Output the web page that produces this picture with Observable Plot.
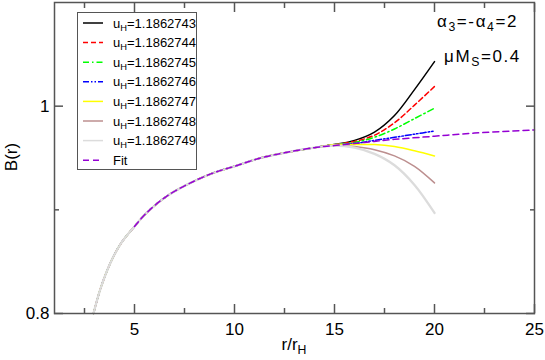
<!DOCTYPE html>
<html><head><meta charset="utf-8">
<script src="https://cdn.jsdelivr.net/npm/d3@7"></script>
<script src="https://cdn.jsdelivr.net/npm/@observablehq/plot@0.6"></script>
<style>
body{margin:0;background:#fff;}
#chart svg{display:block;}
</style>
</head><body><div id="chart"></div>
<script>
// ---- data ----
const uHLabels = ["1.1862743","1.1862744","1.1862745","1.1862746","1.1862747","1.1862748","1.1862749"];
// shared part of all u_H curves
const rBase = [2.95, 3.3, 3.8, 4.3, 5, 5.6, 6.6, 7.8, 9, 10, 11.3, 12.5, 14];
const bBase = [0.800, 0.824, 0.849, 0.867, 0.884, 0.897, 0.913, 0.926, 0.936, 0.942, 0.950, 0.955, 0.960];
// diverging tails
const rTail = [15, 16, 17, 18, 19, 20];
const bTail743 = [0.963, 0.967, 0.975, 0.991, 1.016, 1.043];
const bTail744 = [0.963, 0.966, 0.972, 0.984, 1.001, 1.019];
const bTail745 = [0.963, 0.965, 0.970, 0.978, 0.988, 0.998];
const bTail746 = [0.963, 0.964, 0.967, 0.970, 0.973, 0.976];
const bTail747 = [0.963, 0.963, 0.963, 0.961, 0.957, 0.952];
const bTail748 = [0.962, 0.961, 0.958, 0.952, 0.942, 0.926];
const bTail749 = [0.962, 0.960, 0.954, 0.943, 0.924, 0.897];
// fit
const rFit = [5, 5.6, 6.6, 7.8, 9, 10, 11.3, 12.5, 14, 15, 16.5, 18, 20, 22, 25];
const bFit = [0.884, 0.897, 0.913, 0.926, 0.936, 0.942, 0.950, 0.955, 0.960, 0.962, 0.965, 0.968, 0.971, 0.974, 0.977];
// axes
const xMajor = [5, 10, 15, 20, 25];
const xMinor = [2.5, 7.5, 12.5, 17.5, 22.5];
const yMajor = [0.8, 1.0];
const yMinor = [0.9];
const yTickLabels = ["0.8", "1"];

// ---- styles ----
const seriesColors = ["#000000", "#ff0000", "#00ff00", "#0000ff", "#ffff00", "#bc8f8f", "#dcdcdc"];
const seriesDash = [null, "5,3", "6,3,1.5,3", "6,2,1.5,2,1.5,2", null, null, null];
const seriesWidth = [1.5, 1.5, 1.5, 1.5, 1.5, 1.5, 2.3];
const fitColor = "#9400d3";
const fitDash = "6,4";
const frameColor = "#555";
const FONT = "'Liberation Sans', Arial, Helvetica, sans-serif";

const tails = [bTail743, bTail744, bTail745, bTail746, bTail747, bTail748, bTail749];
const seriesData = tails.map((t, i) =>
  rBase.map((r, j) => ({r, B: bBase[j]})).concat(rTail.map((r, j) => ({r, B: t[j]}))));
const fitData = rFit.map((r, j) => ({r, B: bFit[j]}));

const lineMarks = seriesData.map((d, i) => Plot.line(d, {
  x: "r", y: "B", stroke: seriesColors[i], strokeWidth: seriesWidth[i],
  strokeDasharray: seriesDash[i] || undefined, curve: "catmull-rom"
}));

const tickOpts = {label: null, tickFormat: () => "", stroke: frameColor, strokeWidth: 1.5};
const plot = Plot.plot({
  width: 545, height: 360,
  marginLeft: 54, marginRight: 11, marginTop: 2, marginBottom: 47,
  style: {fontFamily: FONT, fontSize: "17px", background: "white", color: "black"},
  x: {domain: [1, 25]},
  y: {domain: [0.8, 1.1]},
  marks: [
    ...lineMarks,
    Plot.line(fitData, {x: "r", y: "B", stroke: fitColor, strokeWidth: 1.5, strokeDasharray: fitDash, curve: "catmull-rom"}),
    Plot.frame({stroke: frameColor, strokeWidth: 1.5}),
    // tick labels
    Plot.axisX(xMajor, {anchor: "bottom", tickSize: 0, tickPadding: 9, label: null, tickFormat: d => String(d), fontSize: 17}),
    Plot.axisY(yMajor, {anchor: "left", tickSize: 0, tickPadding: 5, label: null, tickFormat: (d, i) => yTickLabels[i], fontSize: 17}),
    // inward ticks
    Plot.axisX(xMajor, {anchor: "bottom", tickSize: -9, ...tickOpts}),
    Plot.axisX(xMinor, {anchor: "bottom", tickSize: -5, ...tickOpts}),
    Plot.axisX(xMajor, {anchor: "top", tickSize: -9, ...tickOpts}),
    Plot.axisX(xMinor, {anchor: "top", tickSize: -5, ...tickOpts}),
    Plot.axisY(yMajor, {anchor: "left", tickSize: -9, ...tickOpts}),
    Plot.axisY(yMinor, {anchor: "left", tickSize: -5, ...tickOpts}),
    Plot.axisY(yMajor, {anchor: "right", tickSize: -9, ...tickOpts}),
    Plot.axisY(yMinor, {anchor: "right", tickSize: -5, ...tickOpts})
  ]
});
document.getElementById("chart").appendChild(plot);

// ---- titles, annotations, legend (real SVG text) ----
const svg = d3.select(plot);
function subText(g, x, y, parts, size, anchor, spacing) {
  const t = g.append("text").attr("x", x).attr("y", y).attr("font-family", FONT)
    .attr("font-size", size).attr("fill", "black").attr("text-anchor", anchor || "start")
    .attr("letter-spacing", spacing || 0);
  let shift = 0;
  parts.forEach(([s, sub]) => {
    const want = sub ? Math.round(size * 0.25) : 0;
    t.append("tspan").attr("dy", want - shift).attr("font-size", sub ? size * 0.72 : size).text(s);
    shift = want;
  });
  return t;
}
// axis titles
subText(svg, 294, 350, [["r/r"], ["H", true]], 17, "middle");
svg.append("text").attr("transform", "translate(17,157) rotate(-90)").attr("text-anchor", "middle")
  .attr("font-family", FONT).attr("font-size", 17).text("B(r)");
// annotations
subText(svg, 437, 27, [["α"], ["3", true], ["=-α"], ["4", true], ["=2"]], 17, "start", 1.6);
subText(svg, 444, 62, [["μM"], ["S", true], ["=0.4"]], 17, "start", 1.6);
// legend
const lg = svg.append("g");
lg.append("rect").attr("x", 77.5).attr("y", 12.5).attr("width", 119).attr("height", 157)
  .attr("fill", "white").attr("stroke", frameColor).attr("stroke-width", 1);
const legendItems = uHLabels.map((u, i) => ({text: [["u"], ["H", true], ["=" + u]], color: seriesColors[i], dash: seriesDash[i]}))
  .concat([{text: [["Fit"]], color: fitColor, dash: fitDash}]);
legendItems.forEach((it, i) => {
  const y = 23 + i * 19.6;
  lg.append("line").attr("x1", 83).attr("x2", 103).attr("y1", y).attr("y2", y)
    .attr("stroke", it.color).attr("stroke-width", 1.5).attr("stroke-dasharray", it.dash);
  subText(lg, 113, y + 4.5, it.text, 13);
});
</script>
</body></html>
